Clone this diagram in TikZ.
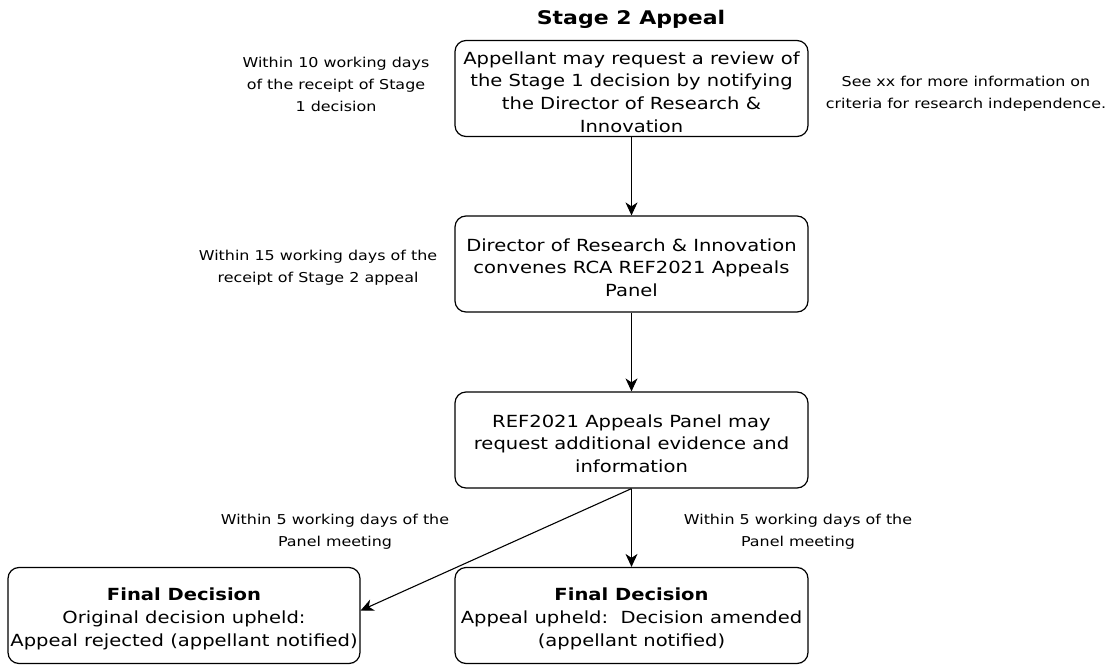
\documentclass[tikz,border=0pt]{standalone}
\usepackage{fontspec}
\setmainfont[FakeStretch=1.17]{DejaVu Sans}
\usetikzlibrary{arrows.meta}
\begin{document}
\begin{tikzpicture}[x=1pt,y=-1pt,
  stepbox/.style={draw=black, line width=1.2pt, rounded corners=11pt,
    minimum width=353pt, minimum height=96pt, inner sep=0pt},
  boxtext/.style={align=center, inner sep=0pt, font=\fontsize{16.7}{22.7}\selectfont},
  note/.style={align=center, inner sep=0pt, font=\fontsize{13.6}{22}\selectfont},
  flow/.style={draw=black, line width=1.1pt, -{Stealth[length=13pt,width=12pt,inset=4pt]}}]
  \useasboundingbox (0,0) rectangle (1113,666);

  % title
  \node[font=\bfseries\fontsize{18.8}{22}\selectfont] (title) at (631,19.5) {Stage 2 Appeal};

  % process steps: rounded frames, text set a little below the centre
  \node[stepbox] (request) at (631.5,88.5) {};
  \node[stepbox] (convene) at (631.5,264) {};
  \node[stepbox] (panel) at (631.5,440) {};
  \node[stepbox, minimum width=352pt] (rejected) at (184,615.5) {};
  \node[stepbox] (upheld) at (631.5,615.5) {};

  \node[boxtext] (request-t) at ([yshift=-3.5pt]request.center)
    {Appellant may request a review of\\the Stage 1 decision by notifying\\the Director of Research \&\\Innovation};
  \node[boxtext] (convene-t) at ([yshift=-3.5pt]convene.center)
    {Director of Research \& Innovation\\convenes RCA REF2021 Appeals\\Panel};
  \node[boxtext] (panel-t) at ([yshift=-3.5pt]panel.center)
    {REF2021 Appeals Panel may\\request additional evidence and\\information};
  \node[boxtext] (rejected-t) at ([yshift=-3.5pt]rejected.center)
    {\textbf{Final Decision}\\Original decision upheld:\\Appeal rejected (appellant notified)};
  \node[boxtext] (upheld-t) at ([yshift=-3.5pt]upheld.center)
    {\textbf{Final Decision}\\Appeal upheld:\ \ Decision amended\\(appellant notified)};

  % timing notes
  \node[note] (t10) at (336,84) {Within 10 working days\\of the receipt of Stage\\1 decision};
  \node[note] (seexx) at (966,93.5) {See xx for more information on\\criteria for research independence.};
  \node[note] (t15) at (318,267.5) {Within 15 working days of the\\receipt of Stage 2 appeal};
  \node[note] (t5a) at (335,531.5) {Within 5 working days of the\\Panel meeting};
  \node[note] (t5b) at (798,531.5) {Within 5 working days of the\\Panel meeting};

  % connectors
  \draw[flow] (request.south) -- (convene.north);
  \draw[flow] (convene.south) -- (panel.north);
  \draw[flow] (panel.south) -- (upheld.north);
  \draw[flow] (panel.south) -- ([yshift=5pt]rejected.east);
\end{tikzpicture}
\end{document}
